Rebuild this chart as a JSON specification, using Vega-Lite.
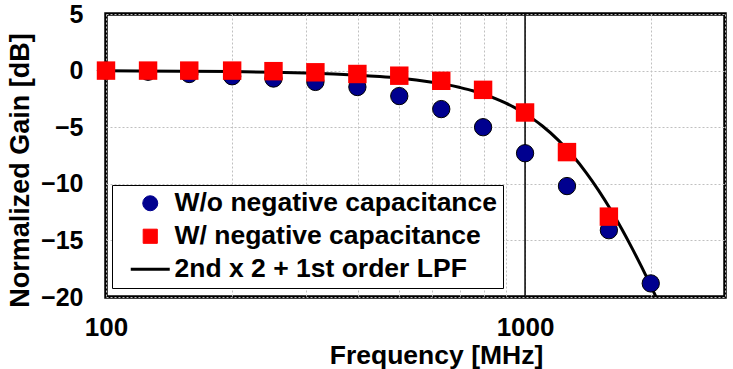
{
  "$schema": "https://vega.github.io/schema/vega-lite/v6.json",
  "width": 619,
  "height": 283,
  "autosize": "none",
  "padding": {"left": 106, "top": 14, "right": 8, "bottom": 72},
  "background": "white",
  "config": {
    "view": {"stroke": "black", "strokeWidth": 3.5},
    "font": "Liberation Sans"
  },
  "datasets": {
    "ref": [{"freq": 1000}],
    "wo": [
      {"freq": 100, "gain": 0, "series": "W/o negative capacitance"},
      {"freq": 126, "gain": -0.1, "series": "W/o negative capacitance"},
      {"freq": 158, "gain": -0.3, "series": "W/o negative capacitance"},
      {"freq": 200, "gain": -0.5, "series": "W/o negative capacitance"},
      {"freq": 251, "gain": -0.7, "series": "W/o negative capacitance"},
      {"freq": 316, "gain": -1.0, "series": "W/o negative capacitance"},
      {"freq": 398, "gain": -1.45, "series": "W/o negative capacitance"},
      {"freq": 501, "gain": -2.25, "series": "W/o negative capacitance"},
      {"freq": 631, "gain": -3.4, "series": "W/o negative capacitance"},
      {"freq": 794, "gain": -5.0, "series": "W/o negative capacitance"},
      {"freq": 1000, "gain": -7.3, "series": "W/o negative capacitance"},
      {"freq": 1259, "gain": -10.2, "series": "W/o negative capacitance"},
      {"freq": 1585, "gain": -14.1, "series": "W/o negative capacitance"},
      {"freq": 1995, "gain": -18.8, "series": "W/o negative capacitance"}
    ],
    "w": [
      {"freq": 100, "gain": 0, "series": "W/ negative capacitance"},
      {"freq": 126, "gain": 0, "series": "W/ negative capacitance"},
      {"freq": 158, "gain": 0, "series": "W/ negative capacitance"},
      {"freq": 200, "gain": 0, "series": "W/ negative capacitance"},
      {"freq": 251, "gain": -0.05, "series": "W/ negative capacitance"},
      {"freq": 316, "gain": -0.15, "series": "W/ negative capacitance"},
      {"freq": 398, "gain": -0.3, "series": "W/ negative capacitance"},
      {"freq": 501, "gain": -0.45, "series": "W/ negative capacitance"},
      {"freq": 631, "gain": -0.9, "series": "W/ negative capacitance"},
      {"freq": 794, "gain": -1.7, "series": "W/ negative capacitance"},
      {"freq": 1000, "gain": -3.7, "series": "W/ negative capacitance"},
      {"freq": 1259, "gain": -7.2, "series": "W/ negative capacitance"},
      {"freq": 1585, "gain": -12.9, "series": "W/ negative capacitance"}
    ],
    "fit": [
      {"freq": 100, "gain": -0.02, "series": "2nd x 2 + 1st order LPF"},
      {"freq": 150, "gain": -0.05, "series": "2nd x 2 + 1st order LPF"},
      {"freq": 200, "gain": -0.09, "series": "2nd x 2 + 1st order LPF"},
      {"freq": 250, "gain": -0.15, "series": "2nd x 2 + 1st order LPF"},
      {"freq": 300, "gain": -0.21, "series": "2nd x 2 + 1st order LPF"},
      {"freq": 350, "gain": -0.3, "series": "2nd x 2 + 1st order LPF"},
      {"freq": 400, "gain": -0.4, "series": "2nd x 2 + 1st order LPF"},
      {"freq": 450, "gain": -0.52, "series": "2nd x 2 + 1st order LPF"},
      {"freq": 500, "gain": -0.66, "series": "2nd x 2 + 1st order LPF"},
      {"freq": 550, "gain": -0.83, "series": "2nd x 2 + 1st order LPF"},
      {"freq": 600, "gain": -1.02, "series": "2nd x 2 + 1st order LPF"},
      {"freq": 650, "gain": -1.24, "series": "2nd x 2 + 1st order LPF"},
      {"freq": 700, "gain": -1.5, "series": "2nd x 2 + 1st order LPF"},
      {"freq": 750, "gain": -1.78, "series": "2nd x 2 + 1st order LPF"},
      {"freq": 800, "gain": -2.11, "series": "2nd x 2 + 1st order LPF"},
      {"freq": 850, "gain": -2.47, "series": "2nd x 2 + 1st order LPF"},
      {"freq": 900, "gain": -2.87, "series": "2nd x 2 + 1st order LPF"},
      {"freq": 950, "gain": -3.32, "series": "2nd x 2 + 1st order LPF"},
      {"freq": 1000, "gain": -3.8, "series": "2nd x 2 + 1st order LPF"},
      {"freq": 1050, "gain": -4.33, "series": "2nd x 2 + 1st order LPF"},
      {"freq": 1100, "gain": -4.89, "series": "2nd x 2 + 1st order LPF"},
      {"freq": 1200, "gain": -6.14, "series": "2nd x 2 + 1st order LPF"},
      {"freq": 1300, "gain": -7.53, "series": "2nd x 2 + 1st order LPF"},
      {"freq": 1400, "gain": -9.03, "series": "2nd x 2 + 1st order LPF"},
      {"freq": 1500, "gain": -10.62, "series": "2nd x 2 + 1st order LPF"},
      {"freq": 1600, "gain": -12.27, "series": "2nd x 2 + 1st order LPF"},
      {"freq": 1700, "gain": -13.97, "series": "2nd x 2 + 1st order LPF"},
      {"freq": 1800, "gain": -15.68, "series": "2nd x 2 + 1st order LPF"},
      {"freq": 1900, "gain": -17.39, "series": "2nd x 2 + 1st order LPF"},
      {"freq": 2000, "gain": -19.09, "series": "2nd x 2 + 1st order LPF"},
      {"freq": 2060, "gain": -20.1, "series": "2nd x 2 + 1st order LPF"}
    ]
  },
  "layer": [
    {
      "data": {"name": "ref"},
      "mark": {"type": "rule", "color": "black", "strokeWidth": 1.5},
      "encoding": {
        "x": {
          "field": "freq",
          "type": "quantitative",
          "scale": {"type": "log", "domain": [100, 3000], "nice": false},
          "axis": {
            "title": "Frequency [MHz]",
            "titleFont": "Liberation Sans",
            "titleFontSize": 26.5,
            "titleFontWeight": "bold",
            "titleColor": "black",
            "titleX": 330,
            "titleY": 66,
            "titleBaseline": "alphabetic",
            "values": [100, 200, 300, 400, 500, 600, 700, 800, 900, 1000, 2000, 3000],
            "labelExpr": "datum.value == 100 ? '100' : (datum.value == 1000 ? '1000' : '')",
            "labelFont": "Liberation Sans",
            "labelFontSize": 26,
            "labelFontWeight": "bold",
            "labelColor": "black",
            "labelPadding": 17,
            "labelFlush": false,
            "labelOverlap": false,
            "ticks": false,
            "domain": false,
            "grid": true,
            "gridColor": "#c0c0c0",
            "gridDash": [2, 2],
            "gridOpacity": 1
          }
        }
      }
    },
    {
      "data": {"name": "fit"},
      "mark": {"type": "line", "strokeWidth": 3, "clip": true, "interpolate": "monotone"},
      "encoding": {
        "x": {"field": "freq", "type": "quantitative"},
        "y": {
          "field": "gain",
          "type": "quantitative",
          "scale": {"domain": [-20, 5], "nice": false, "zero": false},
          "axis": {
            "title": "Normalized Gain [dB]",
            "titleFont": "Liberation Sans",
            "titleFontSize": 27,
            "titleFontWeight": "bold",
            "titleColor": "black",
            "titlePadding": 6,
            "titleY": 156,
            "values": [-20, -15, -10, -5, 0, 5],
            "labelFont": "Liberation Sans",
            "labelFontSize": 25,
            "labelFontWeight": "bold",
            "labelColor": "black",
            "labelPadding": 23,
            "ticks": false,
            "domain": false,
            "grid": true,
            "gridColor": "#c0c0c0",
            "gridDash": [2, 2],
            "gridOpacity": 1
          }
        },
        "color": {
          "field": "series",
          "type": "nominal",
          "scale": {
            "domain": ["W/o negative capacitance", "W/ negative capacitance", "2nd x 2 + 1st order LPF"],
            "range": ["#00008F", "#FF0000", "black"]
          },
          "legend": {
            "title": null,
            "orient": "none",
            "legendX": 6,
            "legendY": 171,
            "direction": "vertical",
            "labelFont": "Liberation Sans",
            "labelFontSize": 26.5,
            "labelFontWeight": "bold",
            "labelColor": "black",
            "labelLimit": 500,
            "labelExpr": "datum.label + '\u00a0\u00a0'",
            "strokeColor": "black",
            "fillColor": "white",
            "padding": 5,
            "rowPadding": 6,
            "symbolSize": 1521,
            "symbolOffset": 20,
            "labelOffset": 11,
            "encode": {
              "symbols": {
                "update": {
                  "shape": {"signal": "datum.value == 'W/o negative capacitance' ? 'circle' : (datum.value == 'W/ negative capacitance' ? 'square' : 'stroke')"},
                  "size": {"signal": "datum.value == 'W/o negative capacitance' ? 225 : (datum.value == 'W/ negative capacitance' ? 200 : 1521)"},
                  "fill": {"signal": "datum.value == 'W/o negative capacitance' ? '#00008F' : (datum.value == 'W/ negative capacitance' ? '#FF0000' : 'transparent')"},
                  "stroke": {"signal": "datum.value == 'W/ negative capacitance' ? 'transparent' : 'black'"},
                  "strokeWidth": {"signal": "datum.value == '2nd x 2 + 1st order LPF' ? 3 : 1"},
                  "opacity": {"value": 1},
                  "fillOpacity": {"value": 1},
                  "strokeOpacity": {"value": 1}
                }
              }
            }
          }
        }
      }
    },
    {
      "data": {"name": "wo"},
      "mark": {"type": "point", "shape": "circle", "filled": true, "size": 300, "stroke": "black", "strokeWidth": 1, "opacity": 1},
      "encoding": {
        "x": {"field": "freq", "type": "quantitative"},
        "y": {"field": "gain", "type": "quantitative"},
        "color": {"field": "series", "type": "nominal"}
      }
    },
    {
      "data": {"name": "w"},
      "mark": {"type": "point", "shape": "square", "filled": true, "size": 340, "opacity": 1, "strokeWidth": 0},
      "encoding": {
        "x": {"field": "freq", "type": "quantitative"},
        "y": {"field": "gain", "type": "quantitative"},
        "color": {"field": "series", "type": "nominal"}
      }
    }
  ]
}
